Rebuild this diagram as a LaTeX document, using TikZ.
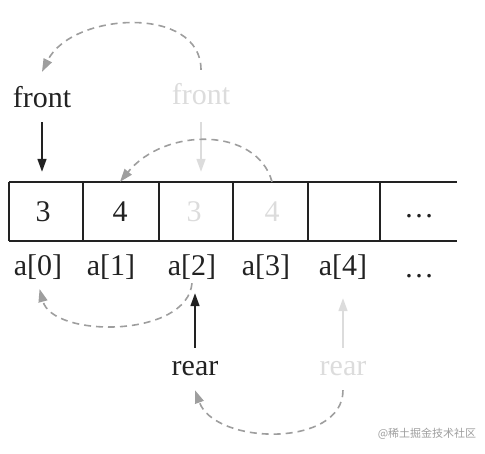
\documentclass[tikz,border=0pt]{standalone}
\usepackage{fontspec}
\setmainfont{Liberation Serif}
\newfontfamily\cjkfont{Noto Sans CJK SC}
\usepackage{tikz}
\usetikzlibrary{arrows.meta}
\definecolor{qdark}{HTML}{222222}
\definecolor{qlight}{HTML}{DCDCDC}
\definecolor{qdash}{HTML}{9E9E9E}

\begin{document}
\begin{tikzpicture}[x=1pt,y=-1pt,
  every node/.style={font=\fontsize{30}{34}\selectfont,text=qdark},
  cellbox/.style={minimum width=70pt,minimum height=59pt,inner sep=0pt},
  idx/.style={text height=21pt,text depth=7pt,inner sep=1pt},
  ptr/.style={minimum height=50pt,inner sep=0pt},
  darr/.style={line width=1.6pt,qdark,-{Triangle[length=13pt,width=9pt]}},
  larr/.style={line width=1.6pt,qlight,-{Triangle[length=13pt,width=9pt]}},
  jump/.style={line width=1.6pt,qdash,dash pattern=on 7pt off 5pt,-{Triangle[length=13pt,width=9pt]}}]
  \useasboundingbox (0,0) rectangle (485,453);
  % the array
  \draw[qdark,line width=1.6pt] (9,182) -- (457,182) (9,241) -- (457,241);
  \foreach \x in {9,83,159,233,308,380}
    \draw[qdark,line width=1.6pt] (\x,182) -- (\x,241);
  \node[cellbox] (c0) at (43,211.5) {3};
  \node[cellbox] (c1) at (120,211.5) {4};
  \node[cellbox,text=qlight] (c2) at (194,211.5) {3};
  \node[cellbox,text=qlight] (c3) at (272,211.5) {4};
  \node[cellbox] (c4) at (344,211.5) {};
  \node[cellbox,minimum height=49pt] (c5) at (419,216) {\dots};
  % indices
  \node[idx] (a0) at (38,268) {a[0]};
  \node[idx] (a1) at (111,268) {a[1]};
  \node[idx] (a2) at (192,268) {a[2]};
  \node[idx] (a3) at (266,268) {a[3]};
  \node[idx] (a4) at (343,268) {a[4]};
  \node[idx] (a5) at (419,270) {\dots};
  % front
  \node[ptr] (f1) at (42,97) {front};
  \node[ptr,minimum height=48pt,text=qlight] (f2) at (201,94) {front};
  \draw[darr,shorten >=10pt] (f1.south) -- (f1.south |- c0.north);
  \draw[larr,shorten <=4pt,shorten >=10pt] (f2.south) -- (f2.south |- c2.north);
  \draw[jump] (f2.north) .. controls +(0,-65) and +(30,-60) .. (f1.north);
  \draw[jump] (c3.north) .. controls +(-15,-55) and +(45,-55) .. (c1.north);
  % rear
  \node[ptr,minimum height=42pt] (r1) at (195,369) {rear};
  \node[ptr,minimum height=42pt,text=qlight] (r2) at (343,369) {rear};
  \draw[darr,shorten >=10pt] (r1.north) -- (r1.north |- a2.south);
  \draw[larr,shorten >=15pt] (r2.north) -- (r2.north |- a4.south);
  \draw[jump,shorten >=6pt] (a2.south) .. controls +(-5,55) and +(15,55) .. (a0.south);
  \draw[jump] (r2.south) .. controls +(0,58) and +(20,55) .. (r1.south);
  \node[font=\cjkfont\fontsize{11}{13}\selectfont,text=qdash] (wm) at (427,434) {@稀土掘金技术社区};
\end{tikzpicture}
\end{document}
